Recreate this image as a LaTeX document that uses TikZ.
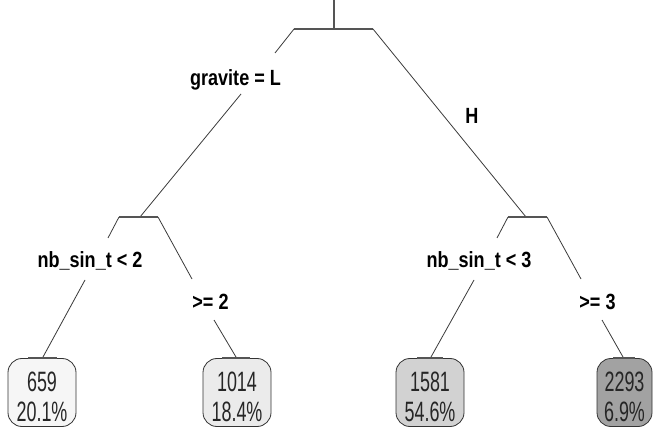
\documentclass[tikz,border=0pt]{standalone}
\usepackage{fontspec}
\setmainfont{Liberation Sans}
\newfontfamily\labfont[FakeStretch=0.82]{Liberation Sans}
\newfontfamily\leaffont[FakeStretch=0.64]{Liberation Sans}
\definecolor{leafA}{HTML}{F6F6F6}
\definecolor{leafB}{HTML}{EBEBEB}
\definecolor{leafC}{HTML}{D2D2D2}
\definecolor{leafD}{HTML}{A2A2A2}
\definecolor{lineclr}{HTML}{3A3A3A}
\definecolor{barclr}{HTML}{555555}
\begin{document}
\begin{tikzpicture}[x=1pt,y=-1pt,
  branch/.style={draw=lineclr, line width=0.8pt},
  splitbar/.style={draw=barclr, line width=1.8pt},
  splitlabel/.style={font=\labfont\bfseries\fontsize{22}{24}\selectfont, anchor=base, inner sep=0pt},
  leafbox/.style={draw=black!80, line width=0.8pt, rounded corners=14pt, minimum height=68pt, inner sep=0pt, outer sep=0pt},
  leaftext/.style={font=\leaffont\fontsize{28}{30}\selectfont, align=center, inner sep=0pt, text=black!85}]
\useasboundingbox (0,0) rectangle (653,427);

% root
\coordinate (rtop) at (334,0);
\coordinate (rjoin) at (334,29);
\coordinate (rL) at (294,29);
\coordinate (rR) at (373,29);
\draw[splitbar] (rtop) -- (rjoin);
\draw[splitbar] (rL) -- (rR);

% left branch of root
\node[splitlabel] (lab1) at (235.5,86) {gravite = L};
\coordinate (gA) at (275,53);
\coordinate (gB) at (241,94);
\coordinate (n2) at (140,217);
\draw[branch] (rL) -- (gA);
\draw[branch] (gB) -- (n2);

% right branch of root
\node[splitlabel] (lab2) at (472,124) {H};
\coordinate (n3) at (526,217);
\draw[branch] (rR) -- (n3);

% node 2 bar
\coordinate (n2L) at (119,217);
\coordinate (n2R) at (158,217);
\draw[splitbar] (n2L) -- (n2R);

% node 3 bar
\coordinate (n3L) at (508,217);
\coordinate (n3R) at (547,217);
\draw[splitbar] (n3L) -- (n3R);

% node 2 children
\node[splitlabel] (lab3) at (90,268) {nb\_sin\_t < 2};
\coordinate (a1) at (108,238);
\coordinate (a2) at (85,280);
\coordinate (l1top) at (43,357);
\draw[branch] (n2L) -- (a1);
\draw[branch] (a2) -- (l1top);

\node[splitlabel] (lab4) at (210.5,310) {>= 2};
\coordinate (b1) at (192,279);
\coordinate (b2) at (214,320);
\coordinate (l2top) at (236,357);
\draw[branch] (n2R) -- (b1);
\draw[branch] (b2) -- (l2top);

% node 3 children
\node[splitlabel] (lab5) at (479,268) {nb\_sin\_t < 3};
\coordinate (c1) at (497,238);
\coordinate (c2) at (474,280);
\coordinate (l3top) at (431,357);
\draw[branch] (n3L) -- (c1);
\draw[branch] (c2) -- (l3top);

\node[splitlabel] (lab6) at (597.5,310) {>= 3};
\coordinate (d1) at (581,279);
\coordinate (d2) at (602,320);
\coordinate (l4top) at (623,357);
\draw[branch] (n3R) -- (d1);
\draw[branch] (d2) -- (l4top);

% leaves
\node[leafbox, fill=leafA, minimum width=68pt] (leaf1) at (42,392.5) {};
\node[leafbox, fill=leafB, minimum width=68pt] (leaf2) at (237,392.5) {};
\node[leafbox, fill=leafC, minimum width=68pt] (leaf3) at (430,392.5) {};
\node[leafbox, fill=leafD, minimum width=55pt] (leaf4) at (624.5,392.5) {};

\node[leaftext] (t1) at (42,397) {659\\20.1\%};
\node[leaftext] (t2) at (237,397) {1014\\18.4\%};
\node[leaftext] (t3) at (430,397) {1581\\54.6\%};
\node[leaftext] (t4) at (624.5,397) {2293\\6.9\%};

% leaf top bars
\coordinate (l1a) at (28,358); \coordinate (l1b) at (57,358);
\coordinate (l2a) at (222,358); \coordinate (l2b) at (250,358);
\coordinate (l3a) at (417,358); \coordinate (l3b) at (443,358);
\coordinate (l4a) at (613,358); \coordinate (l4b) at (635,358);
\draw[splitbar] (l1a) -- (l1b);
\draw[splitbar] (l2a) -- (l2b);
\draw[splitbar] (l3a) -- (l3b);
\draw[splitbar] (l4a) -- (l4b);
\end{tikzpicture}
\end{document}
